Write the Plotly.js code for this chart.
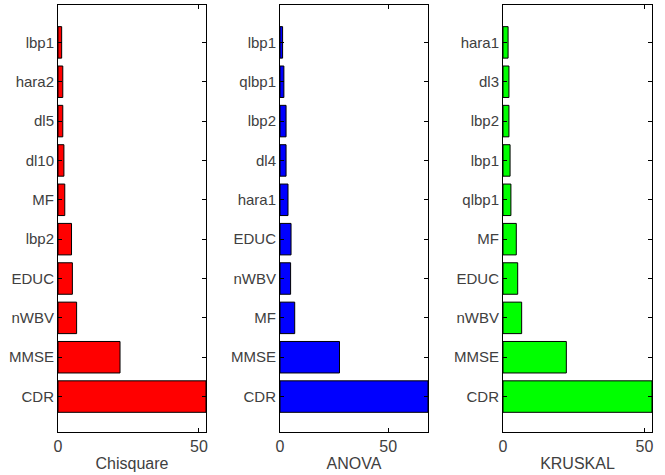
<!DOCTYPE html>
<html>
<head>
<meta charset="utf-8">
<script src="https://cdn.plot.ly/plotly-3.0.1.min.js"></script>
<style>html,body{margin:0;padding:0;background:#fff;}#chart{width:665px;height:475px;}</style>
</head>
<body>
<div id="chart"></div>
<script>
// Chisquare panel (bottom to top)
const chiLabels = ["CDR", "MMSE", "nWBV", "EDUC", "lbp2", "MF", "dl10", "dl5", "hara2", "lbp1"];
const chiValues = [52.5, 22.0, 6.6, 5.1, 4.8, 2.4, 2.1, 1.7, 1.7, 1.3];
// ANOVA panel
const anovaLabels = ["CDR", "MMSE", "MF", "nWBV", "EDUC", "hara1", "dl4", "lbp2", "qlbp1", "lbp1"];
const anovaValues = [68.4, 27.5, 6.8, 4.9, 5.1, 3.7, 2.8, 2.8, 1.8, 1.2];
// KRUSKAL panel
const kruskalLabels = ["CDR", "MMSE", "nWBV", "EDUC", "MF", "qlbp1", "lbp1", "lbp2", "dl3", "hara1"];
const kruskalValues = [52.7, 22.4, 6.6, 5.2, 4.7, 2.8, 2.5, 2.1, 2.1, 1.8];
const xTicks = [0, 50];
const panelTitles = ["Chisquare", "ANOVA", "KRUSKAL"];

const positions = [1,2,3,4,5,6,7,8,9,10];
const colors = ["#ff0000", "#0000ff", "#00ff00"];
const sets = [[chiLabels, chiValues], [anovaLabels, anovaValues], [kruskalLabels, kruskalValues]];
const xRanges = [[0, 52.5], [0, 68.4], [0, 52.7]];
const domains = [[58/665, 206/665], [280/665, 428/665], [503/665, 652/665]];

const fam = "Liberation Sans, Arial, sans-serif";
const txtColor = "#404040";
const traces = [];
const layout = {
  width: 665, height: 475,
  margin: {l: 0, r: 0, t: 0, b: 0},
  paper_bgcolor: "#fff", plot_bgcolor: "#fff",
  showlegend: false,
  font: {family: fam, size: 15, color: txtColor}
};
sets.forEach((s, i) => {
  const n = i === 0 ? "" : String(i + 1);
  traces.push({
    type: "bar", orientation: "h",
    x: s[1], y: positions,
    xaxis: "x" + n, yaxis: "y" + n,
    marker: {color: colors[i], line: {color: "#000", width: 1}},
    width: 0.8,
    hoverinfo: "skip"
  });
  layout["xaxis" + n] = {
    domain: domains[i], anchor: "y" + n,
    range: xRanges[i], tickvals: xTicks, ticktext: xTicks.map(String),
    ticks: "inside", ticklen: 4, tickcolor: "#000",
    showline: true, linecolor: "#000", linewidth: 1, mirror: "ticks",
    showgrid: false, zeroline: false, automargin: false,
    tickfont: {family: fam, size: 16, color: txtColor},
    title: {text: panelTitles[i], standoff: 3, font: {family: fam, size: 16, color: txtColor}}
  };
  layout["yaxis" + n] = {
    domain: [1 - 432/475, 1 - 5/475], anchor: "x" + n,
    range: [0.1, 10.95], tickvals: positions, ticktext: s[0],
    ticks: "inside", ticklen: 4, tickcolor: "#000",
    showline: true, linecolor: "#000", linewidth: 1, mirror: "ticks",
    showgrid: false, zeroline: false, automargin: false,
    tickfont: {family: fam, size: 15, color: txtColor}
  };
});
Plotly.newPlot("chart", traces, layout, {staticPlot: true, displayModeBar: false});
</script>
</body>
</html>
